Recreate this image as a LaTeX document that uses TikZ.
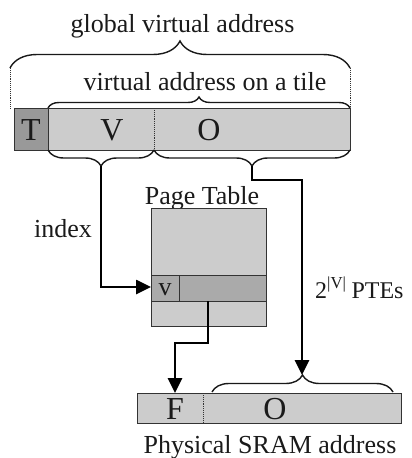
\documentclass[tikz,border=0pt]{standalone}
\usepackage{fontspec}
\setmainfont{Liberation Serif}
\usetikzlibrary{decorations.pathreplacing,arrows.meta}
\definecolor{lgray}{HTML}{CCCCCC}
\definecolor{mgray}{HTML}{AAAAAA}
\definecolor{dgray}{HTML}{999999}
\definecolor{txt}{HTML}{1A1A1A}
\tikzset{
  lbl/.style={font=\fontsize{26}{30}\selectfont, text=txt, inner sep=0pt, anchor=base},
  big/.style={font=\fontsize{32}{34}\selectfont, text=txt, inner sep=0pt},
  cell/.style={draw=black!80, line width=1pt},
  brc/.style={decorate, line width=1.4pt, draw=black!90},
  sep/.style={densely dotted, line width=0.9pt, draw=black!80},
  flow/.style={line width=2.6pt, -{Triangle[length=15pt,width=14pt]}},
}
\begin{document}
\begin{tikzpicture}[x=1pt,y=-1pt]
\useasboundingbox (0,0) rectangle (412,458);
% top labels
\node[lbl] (gva) at (182.5,32) {global virtual address};
\coordinate (gl) at (10,68);
\coordinate (gr) at (350,68);
\draw[brc, decoration={brace, amplitude=27pt}] (gl) -- (gr);
\coordinate (gl2) at (10,108);
\coordinate (gr2) at (350,108);
\draw[sep] (gl) -- (gl2);
\draw[sep] (gr) -- (gr2);
\node[lbl] (vat) at (205,90) {virtual address on a tile};
\coordinate (tl) at (48,108);
\coordinate (tr) at (350,108);
\draw[brc, decoration={brace, amplitude=11pt}] (tl) -- (tr);
% address bar
\fill[dgray] (14,108) rectangle (48,150);
\fill[lgray] (48,108) rectangle (350,150);
\draw[cell] (14,108) rectangle (48,150);
\draw[cell] (48,108) rectangle (350,150);
\coordinate (d1) at (154,108);
\coordinate (d2) at (154,150);
\draw[sep] (d1) -- (d2);
\node[big] (T) at (31,130) {T};
\node[big] (V) at (112,130) {V};
\node[big] (O) at (209,130) {O};
% under braces
\coordinate (vbl) at (48,150);
\coordinate (vbr) at (154,150);
\coordinate (obr) at (350,150);
\draw[brc, decoration={brace, mirror, amplitude=16pt}] (vbl) -- (vbr);
\draw[brc, decoration={brace, mirror, amplitude=16pt}] (vbr) -- (obr);
\coordinate (vtip) at (101,166);
\coordinate (otip) at (252,166);
% page table
\node[lbl] (pt) at (202,204) {Page Table};
\fill[lgray] (151,208) rectangle (266,326);
\fill[mgray] (151,275) rectangle (266,301);
\draw[cell] (151,208) rectangle (266,326);
\draw[cell] (151,275) rectangle (266,301);
\draw[cell] (179,275) -- (179,301);
\node[lbl] (v) at (165,295) {v};
\coordinate (vin) at (151,287);
% index arrow
\node[lbl] (idx) at (63,237) {index};
\draw[flow] (vtip) |- (vin);
% PTE to frame
\coordinate (pte) at (208,301);
\coordinate (pm) at (208,343);
\coordinate (fm) at (175,343);
\coordinate (fin) at (175,393);
\draw[flow] (pte) -- (pm) -- (fm) -- (fin);
% offset arrow
\coordinate (o1) at (252,180);
\coordinate (o2) at (302,180);
\coordinate (ptip) at (302,375);
\draw[flow] (otip) -- (o1) -- (o2) -- (ptip);
\node[lbl, anchor=base west, font=\fontsize{24}{28}\selectfont] (ptes) at (315,298) {2\textsuperscript{|V|}\kern5pt PTEs};
% physical bar
\fill[lgray] (137,393) rectangle (401,423);
\draw[cell] (137,393) rectangle (401,423);
\coordinate (p1) at (203,393);
\coordinate (p2) at (203,423);
\draw[sep] (p1) -- (p2);
\node[big] (F) at (175,409) {F};
\node[big] (PO) at (275,409) {O};
\coordinate (pbl) at (212,392);
\coordinate (pbr) at (393,392);
\draw[brc, decoration={brace, amplitude=17pt}] (pbl) -- (pbr);
\node[lbl] (psa) at (270,453) {Physical SRAM address};
\end{tikzpicture}
\end{document}
